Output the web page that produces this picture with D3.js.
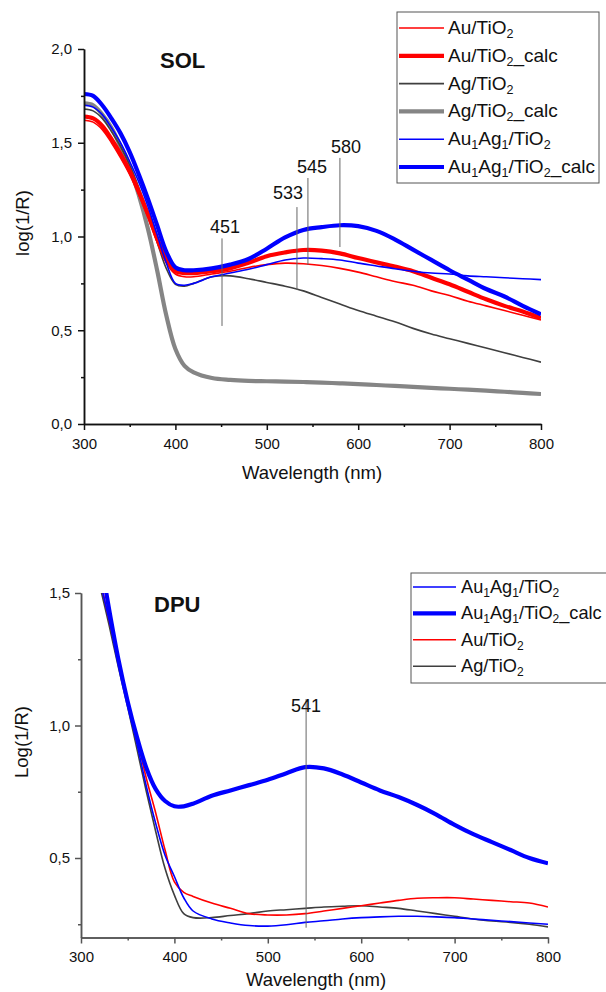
<!DOCTYPE html>
<html>
<head>
<meta charset="utf-8">
<script src="https://cdn.jsdelivr.net/npm/d3@7"></script>
<style>
body { margin: 0; background: #fff; }
svg { display: block; font-family: "Liberation Sans", Arial, sans-serif; }
</style>
</head>
<body>
<div id="chart"></div>
<script>
// ---- SOL panel ----
const solWl = [300, 310, 320, 330, 340, 350, 360, 370, 380, 390, 400, 410, 420,
  440, 460, 480, 500, 520, 540, 560, 580, 600, 620, 640, 660, 680, 700, 720, 740, 760, 780, 800];
const solAgCalc = [1.71, 1.70, 1.65, 1.58, 1.48, 1.37, 1.22, 1.04, 0.82, 0.58, 0.40, 0.31, 0.275,
  0.245, 0.235, 0.23, 0.228, 0.226, 0.224, 0.221, 0.217, 0.213, 0.208, 0.203, 0.198, 0.193, 0.188, 0.183, 0.178, 0.172, 0.166, 0.16];
const solAg = [1.68, 1.67, 1.63, 1.56, 1.48, 1.38, 1.26, 1.12, 0.97, 0.83, 0.745, 0.735, 0.75,
  0.785, 0.79, 0.775, 0.755, 0.735, 0.71, 0.675, 0.64, 0.605, 0.575, 0.545, 0.51, 0.48, 0.455, 0.43, 0.405, 0.38, 0.355, 0.33];
const solAu = [1.62, 1.61, 1.57, 1.50, 1.42, 1.33, 1.22, 1.10, 0.97, 0.86, 0.80, 0.785, 0.785,
  0.80, 0.815, 0.835, 0.85, 0.858, 0.855, 0.845, 0.83, 0.81, 0.785, 0.76, 0.74, 0.71, 0.685, 0.655, 0.63, 0.605, 0.58, 0.555];
const solAuCalc = [1.64, 1.63, 1.59, 1.52, 1.44, 1.35, 1.24, 1.12, 0.99, 0.88, 0.815, 0.805, 0.805,
  0.815, 0.83, 0.86, 0.895, 0.915, 0.928, 0.925, 0.91, 0.885, 0.862, 0.84, 0.815, 0.78, 0.745, 0.705, 0.665, 0.63, 0.60, 0.565];
const solAuAg = [1.70, 1.69, 1.65, 1.58, 1.50, 1.40, 1.29, 1.16, 1.01, 0.86, 0.75, 0.74, 0.75,
  0.785, 0.805, 0.825, 0.85, 0.875, 0.885, 0.882, 0.875, 0.858, 0.843, 0.828, 0.815, 0.805, 0.80, 0.79, 0.785, 0.78, 0.775, 0.77];
const solAuAgCalc = [1.76, 1.75, 1.70, 1.63, 1.55, 1.45, 1.33, 1.20, 1.06, 0.92, 0.835, 0.82, 0.82,
  0.83, 0.85, 0.88, 0.935, 0.995, 1.035, 1.05, 1.06, 1.055, 1.03, 0.985, 0.93, 0.875, 0.82, 0.77, 0.72, 0.68, 0.63, 0.585];
const solPeakWl = [451, 533, 545, 580];
const solPeakLabels = ['451', '533', '545', '580'];
const solPeakTop = [0.99, 1.157, 1.312, 1.419];
const solPeakBottom = [0.523, 0.715, 0.848, 0.944];
const solLabelVal = [1.05, 1.232, 1.371, 1.478];

// ---- DPU panel ----
const dpuWl = [320, 330, 340, 350, 360, 370, 380, 390, 400, 410, 420,
  440, 460, 480, 500, 520, 540, 560, 580, 600, 620, 640, 660, 680, 700, 720, 740, 760, 780, 800];
const dpuAg = [1.53, 1.38, 1.22, 1.07, 0.91, 0.75, 0.60, 0.46, 0.36, 0.29, 0.275,
  0.275, 0.283, 0.29, 0.30, 0.305, 0.31, 0.315, 0.318, 0.32, 0.315, 0.31, 0.30, 0.29, 0.28, 0.27, 0.262, 0.257, 0.25, 0.24];
const dpuAu = [1.56, 1.40, 1.25, 1.10, 0.95, 0.80, 0.67, 0.53, 0.41, 0.37, 0.355,
  0.33, 0.31, 0.29, 0.285, 0.285, 0.29, 0.30, 0.31, 0.32, 0.33, 0.34, 0.348, 0.35, 0.35, 0.345, 0.34, 0.335, 0.33, 0.315];
const dpuAuAg = [1.55, 1.40, 1.25, 1.09, 0.93, 0.77, 0.63, 0.51, 0.43, 0.35, 0.30,
  0.27, 0.255, 0.245, 0.243, 0.248, 0.257, 0.263, 0.27, 0.275, 0.278, 0.28, 0.28, 0.278, 0.275, 0.27, 0.265, 0.26, 0.255, 0.25];
const dpuAuAgCalc = [1.65, 1.44, 1.25, 1.09, 0.955, 0.84, 0.76, 0.715, 0.695, 0.695, 0.705,
  0.735, 0.755, 0.775, 0.795, 0.82, 0.843, 0.838, 0.815, 0.785, 0.755, 0.73, 0.70, 0.665, 0.625, 0.59, 0.56, 0.53, 0.50, 0.48];
const dpuPeakWl = [541];
const dpuPeakLabels = ['541'];
const dpuPeakTop = [1.10];
const dpuPeakBottom = [0.237];
const dpuLabelVal = [1.075];

const xMajor = [300, 400, 500, 600, 700, 800];
const xMinor = [350, 450, 550, 650, 750];
const solYMajor = [0, 0.5, 1.0, 1.5, 2.0];
const solYMinor = [0.25, 0.75, 1.25, 1.75];
const dpuYMajor = [0.5, 1.0, 1.5];
const dpuYMinor = [0.25, 0.75, 1.25];

const fmt = d => d.toFixed(1).replace('.', ',');

const svg = d3.select('#chart').append('svg')
  .attr('width', 606).attr('height', 992);

// name parts: [text, isSub]
const nm = {
  Au: [['Au/TiO', 0], ['2', 1]],
  AuCalc: [['Au/TiO', 0], ['2', 1], ['_calc', 0]],
  Ag: [['Ag/TiO', 0], ['2', 1]],
  AgCalc: [['Ag/TiO', 0], ['2', 1], ['_calc', 0]],
  AuAg: [['Au', 0], ['1', 1], ['Ag', 0], ['1', 1], ['/TiO', 0], ['2', 1]],
  AuAgCalc: [['Au', 0], ['1', 1], ['Ag', 0], ['1', 1], ['/TiO', 0], ['2', 1], ['_calc', 0]]
};

const panel = cfg => {
  const x = d3.scaleLinear().domain([300, 800]).range(cfg.xr);
  const y = d3.scaleLinear().domain(cfg.yd).range(cfg.yr);
  const g = svg.append('g');
  const clipId = 'clip' + cfg.id;
  g.append('clipPath').attr('id', clipId).append('rect')
    .attr('x', cfg.xr[0]).attr('y', cfg.yr[1])
    .attr('width', cfg.xr[1] - cfg.xr[0]).attr('height', cfg.yr[0] - cfg.yr[1]);

  const line = d3.line()
    .x((d, i) => x(cfg.wl[i]))
    .y(d => y(d))
    .curve(d3.curveCatmullRom.alpha(0.5));

  const plot = g.append('g').attr('clip-path', `url(#${clipId})`);
  cfg.series.forEach(s => {
    plot.append('path')
      .datum(s.values)
      .attr('fill', 'none')
      .attr('stroke', s.color)
      .attr('stroke-width', s.width)
      .attr('stroke-linejoin', 'round')
      .attr('d', line);
  });

  // peak markers
  cfg.peaks.wl.forEach((w, i) => {
    g.append('line')
      .attr('x1', x(w)).attr('x2', x(w))
      .attr('y1', y(cfg.peaks.top[i])).attr('y2', y(cfg.peaks.bottom[i]))
      .attr('stroke', '#666').attr('stroke-width', 1);
    g.append('text')
      .attr('x', x(w) + cfg.peaks.dx[i])
      .attr('y', y(cfg.peaks.label[i]))
      .attr('dy', '0.35em')
      .attr('text-anchor', 'middle')
      .attr('font-size', 18)
      .attr('fill', '#111')
      .text(cfg.peaks.text[i]);
  });

  // axes
  const styleAxis = sel => {
    sel.selectAll('path, line').attr('stroke', cfg.axisColor).attr('stroke-width', 1.5);
    sel.selectAll('text').attr('font-size', 15).attr('fill', '#111')
      .attr('font-family', '"Liberation Sans", Arial, sans-serif');
  };
  g.append('g').attr('transform', `translate(0,${cfg.yr[0]})`)
    .call(d3.axisBottom(x).tickValues(xMinor).tickSize(3).tickSizeOuter(0).tickFormat(''))
    .call(styleAxis);
  g.append('g').attr('transform', `translate(0,${cfg.yr[0]})`)
    .call(d3.axisBottom(x).tickValues(xMajor).tickSize(6).tickSizeOuter(0).tickPadding(8).tickFormat(d3.format('d')))
    .call(styleAxis);
  g.append('g').attr('transform', `translate(${cfg.xr[0]},0)`)
    .call(d3.axisLeft(y).tickValues(cfg.yMinor).tickSize(3).tickSizeOuter(0).tickFormat(''))
    .call(styleAxis);
  g.append('g').attr('transform', `translate(${cfg.xr[0]},0)`)
    .call(d3.axisLeft(y).tickValues(cfg.yMajor).tickSize(6).tickSizeOuter(0).tickPadding(cfg.yPad).tickFormat(fmt))
    .call(styleAxis);

  // axis titles
  g.append('text')
    .attr('x', cfg.xTitle[0]).attr('y', cfg.xTitle[1])
    .attr('text-anchor', 'middle').attr('font-size', 18.5).attr('fill', '#111')
    .text('Wavelength (nm)');
  g.append('text')
    .attr('transform', `translate(${cfg.yTitle[0]},${cfg.yTitle[1]}) rotate(-90)`)
    .attr('text-anchor', 'middle').attr('font-size', 18.5).attr('fill', '#111')
    .text(cfg.yLabel);

  // panel name
  g.append('text')
    .attr('x', cfg.name[0]).attr('y', cfg.name[1])
    .attr('font-size', 22).attr('font-weight', 'bold').attr('fill', '#111')
    .text(cfg.id);

  // legend
  const lg = g.append('g');
  const fs = cfg.legend.fs;
  lg.append('rect')
    .attr('x', cfg.legend.x).attr('y', cfg.legend.y)
    .attr('width', cfg.legend.w).attr('height', cfg.legend.h)
    .attr('fill', '#fff').attr('stroke', '#555').attr('stroke-width', 1);
  cfg.legendOrder.forEach((s, i) => {
    const ry = cfg.legend.y0 + i * cfg.legend.step;
    lg.append('line')
      .attr('x1', cfg.legend.lx[0]).attr('x2', cfg.legend.lx[1])
      .attr('y1', ry).attr('y2', ry)
      .attr('stroke', s.color).attr('stroke-width', s.width);
    const t = lg.append('text')
      .attr('x', cfg.legend.tx).attr('y', ry + 6)
      .attr('font-size', fs).attr('fill', '#111');
    let shifted = false;
    s.name.forEach(([txt, sub]) => {
      const dy = sub ? (shifted ? 0 : 4) : (shifted ? -4 : 0);
      shifted = !!sub;
      t.append('tspan')
        .attr('font-size', sub ? fs * 0.66 : fs)
        .attr('dy', dy)
        .text(txt);
    });
  });
};

const red = '#ff0000', blue = '#0000ff', dark = '#3f3f3f', grey = '#858585';
const thin = 1.6, thick = 4.2;

const solSeries = {
  agCalc: {values: solAgCalc, color: grey, width: thick, name: nm.AgCalc},
  ag: {values: solAg, color: dark, width: thin, name: nm.Ag},
  au: {values: solAu, color: red, width: thin, name: nm.Au},
  auCalc: {values: solAuCalc, color: red, width: thick, name: nm.AuCalc},
  auAg: {values: solAuAg, color: blue, width: thin, name: nm.AuAg},
  auAgCalc: {values: solAuAgCalc, color: blue, width: thick, name: nm.AuAgCalc}
};

panel({
  id: 'SOL',
  wl: solWl,
  xr: [84, 541], yd: [0, 2], yr: [424, 49],
  axisColor: '#111', yPad: 6,
  yMajor: solYMajor, yMinor: solYMinor,
  series: [solSeries.agCalc, solSeries.ag, solSeries.au, solSeries.auCalc, solSeries.auAg, solSeries.auAgCalc],
  legendOrder: [solSeries.au, solSeries.auCalc, solSeries.ag, solSeries.agCalc, solSeries.auAg, solSeries.auAgCalc],
  peaks: {wl: solPeakWl, text: solPeakLabels, top: solPeakTop, bottom: solPeakBottom, label: solLabelVal, dx: [3, -9, 4, 6]},
  xTitle: [312, 479], yTitle: [29, 223], yLabel: 'log(1/R)',
  name: [160, 68],
  legend: {x: 397, y: 12, w: 202, h: 171, y0: 28, step: 27.8, lx: [399, 444], tx: 448, fs: 19}
});

const dpuSeries = {
  ag: {values: dpuAg, color: dark, width: thin, name: nm.Ag},
  au: {values: dpuAu, color: red, width: thin, name: nm.Au},
  auAg: {values: dpuAuAg, color: blue, width: thin, name: nm.AuAg},
  auAgCalc: {values: dpuAuAgCalc, color: blue, width: thick, name: nm.AuAgCalc}
};

panel({
  id: 'DPU',
  wl: dpuWl,
  xr: [81, 548], yd: [0.2, 1.5], yr: [937.5, 593],
  axisColor: '#555', yPad: 5,
  yMajor: dpuYMajor, yMinor: dpuYMinor,
  series: [dpuSeries.ag, dpuSeries.au, dpuSeries.auAg, dpuSeries.auAgCalc],
  legendOrder: [dpuSeries.auAg, dpuSeries.auAgCalc, dpuSeries.au, dpuSeries.ag],
  peaks: {wl: dpuPeakWl, text: dpuPeakLabels, top: dpuPeakTop, bottom: dpuPeakBottom, label: dpuLabelVal, dx: [0]},
  xTitle: [316, 986], yTitle: [28, 742], yLabel: 'Log(1/R)',
  name: [154, 612],
  legend: {x: 411, y: 573, w: 205, h: 110, y0: 587, step: 26.4, lx: [413, 456], tx: 461, fs: 18.2}
});
</script>
</body>
</html>
